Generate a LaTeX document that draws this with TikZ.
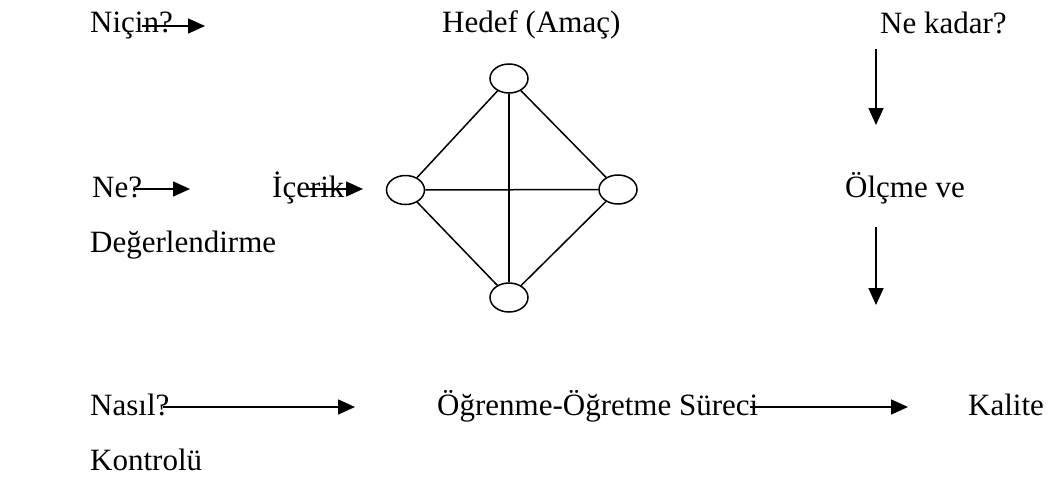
\documentclass[tikz,border=0pt]{standalone}
\usepackage{fontspec}
\setmainfont{Liberation Serif}
\usetikzlibrary{arrows.meta,shapes.geometric}
\begin{document}
\begin{tikzpicture}[x=1pt,y=-1pt,
  lbl/.style={anchor=base west,inner sep=0pt,font=\fontsize{31}{36}\selectfont},
  circ/.style={draw,ellipse,minimum width=38pt,minimum height=29pt,inner sep=0pt,line width=1.5pt,fill=white},
  edgeln/.style={line width=1.5pt},
  arr/.style={line width=1.6pt,-{Triangle[length=17pt,width=15pt]}}]
\useasboundingbox (0,0) rectangle (1052,482);
% labels
\node[lbl] (nicin) at (90,32) {Niçin?};
\node[lbl] (hedef) at (442,32) {Hedef (Amaç)};
\node[lbl] (nekadar) at (880,33) {Ne kadar?};
\node[lbl] (ne) at (92,197) {Ne?};
\node[lbl] (icerik) at (272,197) {İçerik};
\node[lbl] (olcme) at (845,197) {Ölçme ve};
\node[lbl] (deger) at (90,252) {Değerlendirme};
\node[lbl] (nasil) at (90,415) {Nasıl?};
\node[lbl] (ogrenme) at (437,415) {Öğrenme-Öğretme Süreci};
\node[lbl] (kalite) at (968,415) {Kalite};
\node[lbl] (kontrol) at (90,470) {Kontrolü};
% diamond of ellipses
\node[circ] (top) at (509,78.5) {};
\node[circ] (left) at (405.5,190) {};
\node[circ] (right) at (618,189.5) {};
\node[circ] (bot) at (509,297.5) {};
\draw[edgeln] (top) -- (left);
\draw[edgeln] (top) -- (right);
\draw[edgeln] (left) -- (bot);
\draw[edgeln] (right) -- (bot);
\draw[edgeln] (left) -- (right);
\draw[edgeln] (top) -- (bot);
% arrow end points
\coordinate (a1s) at (142,26);
\coordinate (a1e) at (205,26);
\coordinate (a2s) at (133,189);
\coordinate (a2e) at (190,189);
\coordinate (a3s) at (308,189);
\coordinate (a3e) at (363,189);
\coordinate (v1s) at (876,49);
\coordinate (v1e) at (876,125);
\coordinate (v2s) at (876,227);
\coordinate (v2e) at (876,305);
\coordinate (h1s) at (163,407);
\coordinate (h1e) at (355,407);
\coordinate (h2s) at (750,407);
\coordinate (h2e) at (908,407);
\draw[arr] (a1s) -- (a1e);
\draw[arr] (a2s) -- (a2e);
\draw[arr] (a3s) -- (a3e);
\draw[arr] (v1s) -- (v1e);
\draw[arr] (v2s) -- (v2e);
\draw[arr] (h1s) -- (h1e);
\draw[arr] (h2s) -- (h2e);
\end{tikzpicture}
\end{document}
